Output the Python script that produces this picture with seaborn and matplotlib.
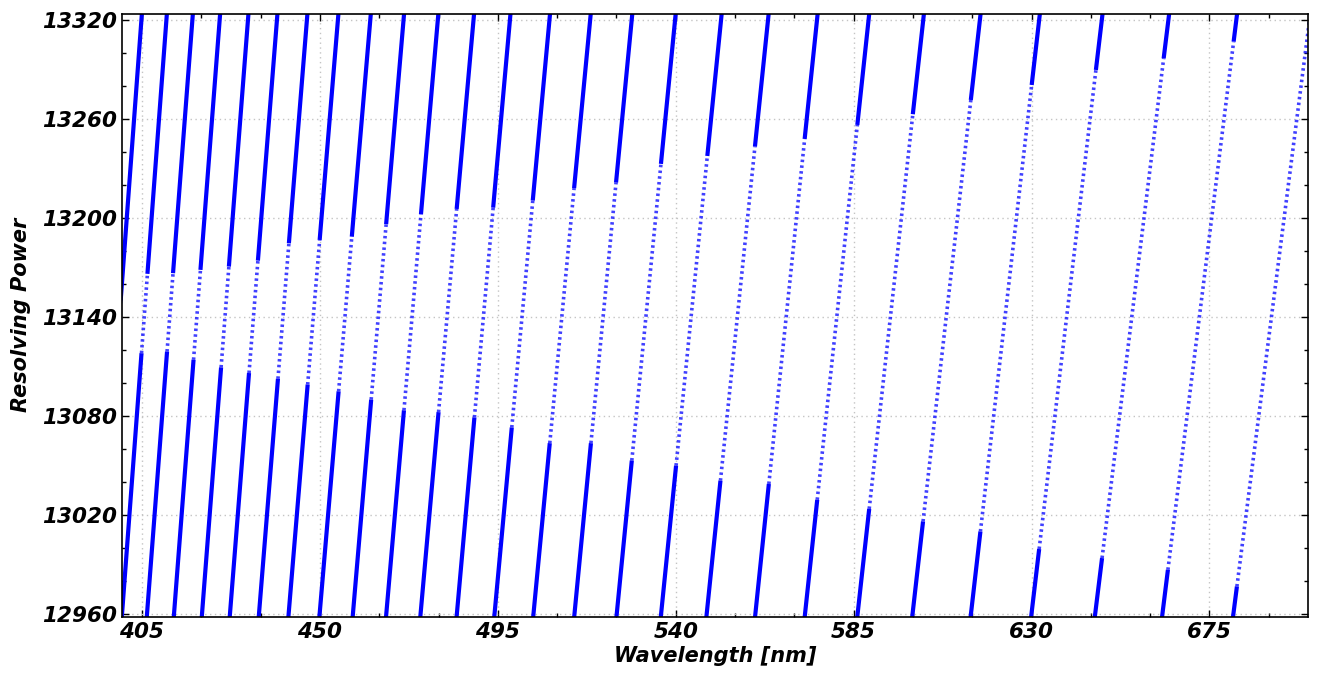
import numpy as np
import pandas as pd
import seaborn as sns
import matplotlib
matplotlib.use("Agg")
import matplotlib.pyplot as plt
from matplotlib.ticker import MultipleLocator

# Seaborn Style
sns.set_theme(style="white")
plt.rcParams['font.family'] = ['DejaVu Sans']
plt.rcParams['font.weight'] = 'bold'
plt.rcParams['font.style'] = 'italic'
plt.rcParams['text.color'] = 'black'
plt.rcParams['axes.labelcolor'] = 'black'
plt.rcParams['xtick.color'] = 'black'
plt.rcParams['ytick.color'] = 'black'

# Resolving power range covered by each order line
RP_BOTTOM = 12960
RP_TOP = 13320

# Wavelength [nm] of each echelle order at RP_BOTTOM and at RP_TOP
ORDER_LAM_BOT = [393.73, 399.94, 406.26, 413.09, 420.17, 427.24, 434.58, 442.08,
                 449.92, 458.34, 466.78, 475.45, 484.63, 494.16, 504.01, 514.38,
                 525.07, 536.29, 547.82, 560.13, 572.69, 585.99, 599.89, 614.66,
                 629.97, 646.08, 663.09, 681.04]
ORDER_LAM_TOP = [404.85, 411.17, 417.74, 424.64, 431.80, 439.13, 446.71, 454.55,
                 462.74, 471.15, 479.82, 488.85, 498.06, 508.06, 518.35, 528.86,
                 539.83, 551.46, 563.34, 575.73, 588.77, 602.60, 616.93, 631.92,
                 647.77, 664.61, 681.79, 700.30]

# Resolving power where the densely sampled low end stops / high end starts
DENSE_END = [13110.0, 13118.1, 13119.1, 13114.1, 13109.5, 13106.1, 13102.6, 13099.1,
             13095.0, 13090.0, 13083.5, 13082.4, 13079.2, 13073.1, 13063.6, 13063.6,
             13053.1, 13050.0, 13040.9, 13038.9, 13029.3, 13023.8, 13016.2, 13010.1,
             12999.5, 12994.0, 12986.9, 12976.8]
DENSE_START = [13150.0, 13166.2, 13166.6, 13168.6, 13170.6, 13174.2, 13184.7, 13186.7,
               13188.7, 13196.3, 13202.3, 13205.5, 13206.3, 13210.6, 13218.1, 13221.5,
               13232.8, 13237.6, 13243.3, 13247.9, 13256.4, 13262.9, 13271.5, 13280.6,
               13289.7, 13296.8, 13306.9, 13330.0]


def lam_at(i, rp):
    # orders are straight lines in (wavelength, R)
    lo, hi = ORDER_LAM_BOT[i], ORDER_LAM_TOP[i]
    return lo + (hi - lo) * (rp - RP_BOTTOM) / (RP_TOP - RP_BOTTOM)


dense_rows, sparse_rows = [], []
r_min, r_max = RP_BOTTOM - 5, RP_TOP + 5
for i in range(len(ORDER_LAM_BOT)):
    segs = [(dense_rows, r_min, DENSE_END[i]),
            (sparse_rows, DENSE_END[i], min(DENSE_START[i], r_max)),
            (dense_rows, DENSE_START[i], r_max)]
    for k, (rows, r0, r1) in enumerate(segs):
        if r1 <= r0:
            continue
        for r in (r0, r1):
            rows.append({'wavelength': lam_at(i, r), 'rp': r, 'seg': f"{i}_{k}"})

dense_df = pd.DataFrame(dense_rows)
sparse_df = pd.DataFrame(sparse_rows)

fig = plt.figure(figsize=(13.23, 6.80), dpi=100)
ax = fig.add_axes([0.0924, 0.0931, 0.8965, 0.8863])

sns.lineplot(data=sparse_df, x='wavelength', y='rp', units='seg', estimator=None,
             color='blue', lw=2.6, alpha=0.75, linestyle=(0, (0.7, 0.9)), ax=ax)
sns.lineplot(data=dense_df, x='wavelength', y='rp', units='seg', estimator=None,
             color='blue', lw=3.0, ax=ax, solid_capstyle='butt')

ax.set_xlim(400, 700)
ax.set_ylim(12958.5, 13323.6)
ax.xaxis.set_major_locator(MultipleLocator(45))
ax.xaxis.set_minor_locator(MultipleLocator(15))
ax.yaxis.set_major_locator(MultipleLocator(60))
ax.yaxis.set_minor_locator(MultipleLocator(20))
ax.tick_params(which='both', direction='in', top=True, right=True,
               bottom=True, left=True, colors='black', labelsize=15.5)
ax.tick_params(which='major', length=5, width=1)
ax.tick_params(which='minor', length=3, width=1)
ax.grid(True, which='major', linestyle=(0, (1, 2.5)), color='#c4c4c4', linewidth=1)
for sp in ax.spines.values():
    sp.set_color('black')
    sp.set_linewidth(1.2)

ax.set_xlabel("Wavelength [nm]", fontsize=15, fontweight='bold', fontstyle='italic', labelpad=3)
ax.set_ylabel("Resolving Power", fontsize=15, fontweight='bold', fontstyle='italic', labelpad=8)

fig.savefig("out.png", dpi=100)
